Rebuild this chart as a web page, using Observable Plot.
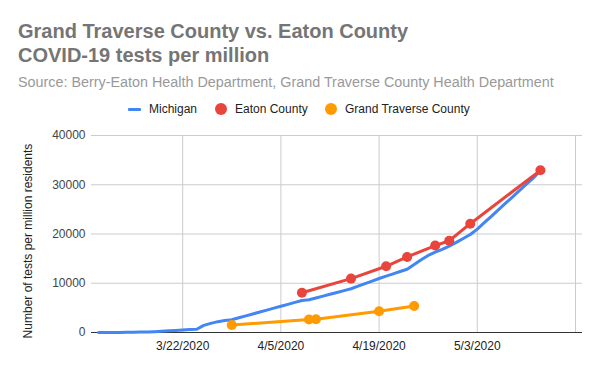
<!DOCTYPE html>
<html>
<head>
<meta charset="utf-8">
<script src="https://cdn.jsdelivr.net/npm/d3@7"></script>
<script src="https://cdn.jsdelivr.net/npm/@observablehq/plot@0.6"></script>
<style>
  html, body { margin: 0; padding: 0; background: #fff; }
  body { width: 600px; height: 371px; overflow: hidden; font-family: "Liberation Sans", Arial, sans-serif; }
  #header { position: relative; width: 600px; height: 118px; }
  #title { position: absolute; left: 18px; top: 18.75px; font-size: 20px; line-height: 24px; font-weight: bold; color: #757575; white-space: nowrap; }
  #subtitle { position: absolute; left: 18px; top: 75px; font-size: 14.35px; line-height: 14px; color: #999; white-space: nowrap; }
  .leg { position: absolute; top: 103.3px; font-size: 12px; line-height: 12px; color: #222; white-space: nowrap; }
  .sw { position: absolute; }
  #chart svg { display: block; }
</style>
</head>
<body>
<div id="header">
  <div id="title">Grand Traverse County vs. Eaton County<br>COVID-19 tests per million</div>
  <div id="subtitle">Source: Berry-Eaton Health Department, Grand Traverse County Health Department</div>
  <div class="sw" style="left:128px; top:108px; width:13px; height:3px; background:#4285F4; border-radius:1px;"></div>
  <div class="leg" style="left:149px;">Michigan</div>
  <div class="sw" style="left:214.7px; top:103.3px; width:12px; height:12px; border-radius:50%; background:#E8453C;"></div>
  <div class="leg" style="left:235px;">Eaton County</div>
  <div class="sw" style="left:324.7px; top:103.3px; width:12px; height:12px; border-radius:50%; background:#FF9A00;"></div>
  <div class="leg" style="left:345px;">Grand Traverse County</div>
</div>
<div id="chart"></div>
<script>
// ---- data ----
const michiganDates = [
  "2020-03-10","2020-03-11","2020-03-12","2020-03-13","2020-03-14","2020-03-15","2020-03-16","2020-03-17",
  "2020-03-18","2020-03-19","2020-03-20","2020-03-21","2020-03-22","2020-03-23","2020-03-24","2020-03-25",
  "2020-03-26","2020-03-27","2020-03-28","2020-03-29","2020-03-30","2020-03-31","2020-04-01","2020-04-02",
  "2020-04-03","2020-04-04","2020-04-05","2020-04-06","2020-04-07","2020-04-08","2020-04-09","2020-04-10",
  "2020-04-11","2020-04-12","2020-04-13","2020-04-14","2020-04-15","2020-04-16","2020-04-17","2020-04-18",
  "2020-04-19","2020-04-20","2020-04-21","2020-04-22","2020-04-23","2020-04-24","2020-04-25","2020-04-26",
  "2020-04-27","2020-04-28","2020-04-29","2020-04-30","2020-05-01","2020-05-02","2020-05-03","2020-05-04",
  "2020-05-05","2020-05-06","2020-05-07","2020-05-08","2020-05-09","2020-05-10","2020-05-11","2020-05-12"
];
const michiganValues = [
  0, 5, 10, 20, 35, 55, 80, 110,
  170, 250, 340, 430, 520, 590, 670, 1450,
  1850, 2200, 2450, 2600, 2990, 3380, 3770, 4160,
  4550, 4940, 5330, 5720, 6110, 6500, 6640, 7010,
  7390, 7760, 8130, 8510, 8880, 9400, 9920, 10440,
  10960, 11450, 11900, 12380, 12850, 13800, 14750, 15650,
  16300, 16900, 17550, 18300, 19100, 19900, 21000, 22300,
  23600, 24900, 26200, 27500, 28800, 30100, 31400, 32900
];
const eatonDates = ["2020-04-08","2020-04-15","2020-04-20","2020-04-23","2020-04-27","2020-04-29","2020-05-02","2020-05-12"];
const eatonValues = [8070, 10940, 13450, 15340, 17650, 18630, 22090, 32930];
const gtDates = ["2020-03-29","2020-04-09","2020-04-10","2020-04-19","2020-04-24"];
const gtValues = [1520, 2640, 2700, 4300, 5380];

const xDomain = ["2020-03-09", "2020-05-18"];
const xGridDates = ["2020-03-22","2020-04-05","2020-04-19","2020-05-03","2020-05-17"];
const xTickDates = ["2020-03-22","2020-04-05","2020-04-19","2020-05-03"];
const yTicks = [0, 10000, 20000, 30000, 40000];
const yTitle = "Number of tests per million residents";

const parse = d3.utcParse("%Y-%m-%d");
const toRows = (dates, values) => dates.map((d, i) => ({date: parse(d), value: values[i]}));
const michigan = toRows(michiganDates, michiganValues);
const eaton = toRows(eatonDates, eatonValues);
const gt = toRows(gtDates, gtValues);

const blue = "#4285F4", red = "#E8453C", orange = "#FF9A00";

const chart = Plot.plot({
  width: 600,
  height: 253,
  marginLeft: 91,
  marginRight: 18,
  marginTop: 17,
  marginBottom: 39,
  style: {fontFamily: '"Liberation Sans", Arial, sans-serif', fontSize: "12px", background: "#fff"},
  x: {type: "utc", domain: xDomain.map(parse)},
  y: {domain: [0, 40000]},
  marks: [
    Plot.gridY(yTicks.filter(d => d > 0), {stroke: "#cccccc", strokeOpacity: 1}),
    Plot.gridX(xGridDates.map(parse), {stroke: "#cccccc", strokeOpacity: 1}),
    Plot.ruleY([0], {stroke: "#333"}),
    Plot.axisY(yTicks, {tickSize: 0, tickPadding: 6, tickFormat: d3.format("d"), fill: "#444", label: null}),
    Plot.axisX(xTickDates.map(parse), {tickSize: 0, tickPadding: 9, tickFormat: d3.utcFormat("%-m/%-d/%Y"), fill: "#222", label: null}),
    Plot.text([yTitle], {frameAnchor: "left", textAnchor: "middle", dx: -63, dy: 7, rotate: -90, text: d => d, fill: "#222", fontSize: 12}),
    Plot.line(michigan, {x: "date", y: "value", stroke: blue, strokeWidth: 3, strokeLinejoin: "round", strokeLinecap: "round"}),
    Plot.line(eaton, {x: "date", y: "value", stroke: red, strokeWidth: 3}),
    Plot.dot(eaton, {x: "date", y: "value", fill: red, r: 5}),
    Plot.line(gt, {x: "date", y: "value", stroke: orange, strokeWidth: 3}),
    Plot.dot(gt, {x: "date", y: "value", fill: orange, r: 5})
  ]
});
document.getElementById("chart").appendChild(chart);
</script>
</body>
</html>
